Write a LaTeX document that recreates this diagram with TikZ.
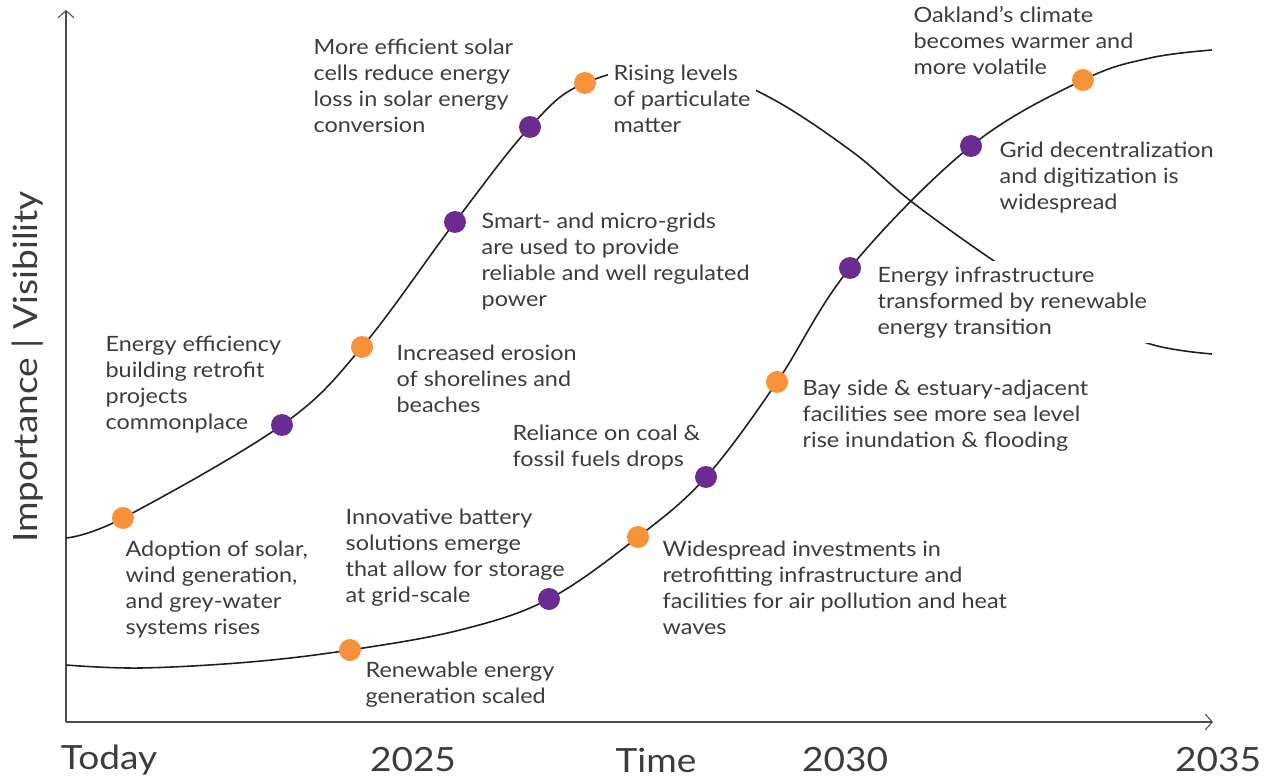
\documentclass[tikz,border=0pt]{standalone}
\usepackage{fontspec}
\setmainfont{Lato}[FakeStretch=1.11]
\usetikzlibrary{arrows.meta}
\definecolor{dotorange}{HTML}{F7923A}
\definecolor{dotpurple}{HTML}{6A2C90}
\definecolor{txtgray}{HTML}{3C3C3C}
\begin{document}
\begin{tikzpicture}[x=0.02cm,y=-0.02cm,
    every node/.style={text=txtgray},
    note/.style={anchor=north west,align=left,inner sep=3pt,font=\fontsize{12}{14.8}\selectfont},
    axislabel/.style={inner sep=0pt,font=\fontsize{19}{22}\selectfont},
    axis/.style={-{Straight Barb[length=4pt,width=9pt]},black!70,line width=0.6pt},
    odot/.style={circle,fill=dotorange,inner sep=0pt,minimum size=0.44cm},
    pdot/.style={circle,fill=dotpurple,inner sep=0pt,minimum size=0.44cm},
    curve/.style={line width=0.9pt,color=black!88}]
    \useasboundingbox (0,0) rectangle (1268,777);
    % axes
    \coordinate (origin) at (66,722);
    \coordinate (ytop) at (66,10);
    \coordinate (xend) at (1213,722);
    \draw[axis] (origin) -- (ytop);
    \draw[axis] (origin) -- (xend);
    % first curve
    \coordinate (a0) at (66,538);
    \coordinate (a1) at (123,518);
    \coordinate (a2) at (282,425);
    \coordinate (a3) at (362,347);
    \coordinate (a4) at (455,222);
    \coordinate (a5) at (530,127);
    \coordinate (a6) at (585,83);
    \coordinate (a7) at (680,64);
    \coordinate (a8) at (765,95);
    \coordinate (a9) at (850,150);
    \coordinate (a10) at (912,202);
    \coordinate (a11) at (997,263);
    \coordinate (a12) at (1075,312);
    \coordinate (a13) at (1150,344);
    \coordinate (a14) at (1212,354);
    \draw[curve] plot[smooth,tension=0.6] coordinates {(a0) (a1) (a2) (a3) (a4) (a5) (a6) (a7) (a8) (a9) (a10) (a11) (a12) (a13) (a14)};
    % second curve
    \coordinate (b0) at (66,665);
    \coordinate (b1) at (140,668);
    \coordinate (b2) at (250,662);
    \coordinate (b3) at (350,650);
    \coordinate (b4) at (460,630);
    \coordinate (b5) at (549,599);
    \coordinate (b6) at (638,537);
    \coordinate (b7) at (706,477);
    \coordinate (b8) at (777,382);
    \coordinate (b9) at (850,268);
    \coordinate (b10) at (971,146);
    \coordinate (b11) at (1083,80);
    \coordinate (b12) at (1150,58);
    \coordinate (b13) at (1212,50);
    \draw[curve] plot[smooth,tension=0.6] coordinates {(b0) (b1) (b2) (b3) (b4) (b5) (b6) (b7) (b8) (b9) (b10) (b11) (b12) (b13)};
    % labels
    \node[note] (efficient) at (308,33) {More efficient solar\\cells reduce energy\\loss in solar energy\\conversion};
    \node[note,fill=white] (particulate) at (608,59) {Rising levels\\of particulate\\matter};
    \node[note] (climate) at (908,1) {Oakland’s climate\\becomes warmer and\\more volatile};
    \node[note] (grid) at (994,136) {Grid decentralization\\and digitization is\\widespread};
    \node[note] (smart) at (476,207) {Smart- and micro-grids\\are used to provide\\reliable and well regulated\\power};
    \node[note,fill=white] (infra) at (872,261) {Energy infrastructure\\transformed by renewable\\energy transition};
    \node[note] (retrofit) at (100,330) {Energy efficiency\\building retrofit\\projects\\commonplace};
    \node[note] (erosion) at (391,339) {Increased erosion\\of shorelines and\\beaches};
    \node[note] (bayside) at (797,374) {Bay side \& estuary-adjacent\\facilities see more sea level\\rise inundation \& flooding};
    \node[note] (coal) at (507,419) {Reliance on coal \&\\fossil fuels drops};
    \node[note] (battery) at (340,503) {Innovative battery\\solutions emerge\\that allow for storage\\at grid-scale};
    \node[note] (adoption) at (120,535) {Adoption of solar,\\wind generation,\\and grey-water\\systems rises};
    \node[note] (investments) at (657,535) {Widespread investments in\\retrofitting infrastructure and\\facilities for air pollution and heat\\waves};
    \node[note] (scaled) at (360,656) {Renewable energy\\generation scaled};
    % dots
    \node[odot] (d1) at (a1) {};
    \node[pdot] (d2) at (a2) {};
    \node[odot] (d3) at (a3) {};
    \node[pdot] (d4) at (a4) {};
    \node[pdot] (d5) at (a5) {};
    \node[odot] (d6) at (a6) {};
    \node[odot] (e1) at (b3) {};
    \node[pdot] (e2) at (b5) {};
    \node[odot] (e3) at (b6) {};
    \node[pdot] (e4) at (b7) {};
    \node[odot] (e5) at (b8) {};
    \node[pdot] (e6) at (b9) {};
    \node[pdot] (e7) at (b10) {};
    \node[odot] (e8) at (b11) {};
    % axis texts
    \node[axislabel,rotate=90] (ylabel) at (28,367) {Importance | Visibility};
    \node[axislabel] (today) at (109,760) {Today};
    \node[axislabel] (y2025) at (413,760) {2025};
    \node[axislabel] (time) at (656,760) {Time};
    \node[axislabel] (y2030) at (845,760) {2030};
    \node[axislabel] (y2035) at (1218,760) {2035};
\end{tikzpicture}
\end{document}
